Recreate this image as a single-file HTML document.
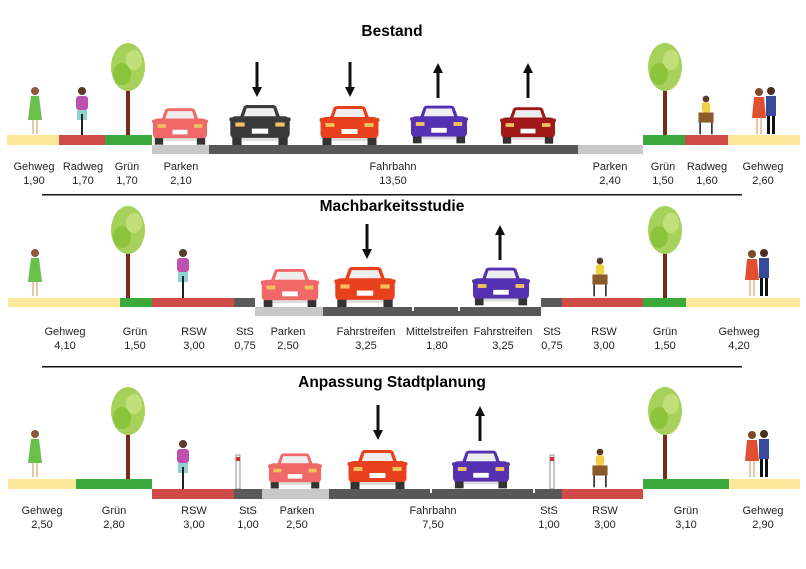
<!DOCTYPE html>
<html><head><meta charset="utf-8"><style>
html,body{margin:0;padding:0;background:#fff}
svg{display:block}
text{font-family:"Liberation Sans",sans-serif;font-size:11px;fill:#222;text-anchor:middle}
.t{font-size:15.5px;font-weight:bold;fill:#000}
</style></head><body>
<svg width="806" height="569" viewBox="0 0 806 569" xmlns="http://www.w3.org/2000/svg">
<defs>
<symbol id="car" viewBox="0 0 60 40" overflow="visible">
<path d="M10 14 L14 3 Q15 1 18 1 L42 1 Q45 1 46 3 L50 14 Z" fill="currentColor"/>
<path d="M14 13 L17 4 L43 4 L46 13 Z" fill="#eee"/>
<rect x="1" y="12" width="58" height="22" rx="5" fill="currentColor"/>
<rect x="0" y="13" width="6" height="4" rx="2" fill="currentColor"/>
<rect x="54" y="13" width="6" height="4" rx="2" fill="currentColor"/>
<rect x="6" y="18" width="9" height="4" fill="#f3c060"/>
<rect x="45" y="18" width="9" height="4" fill="#f3c060"/>
<rect x="22" y="24" width="16" height="5" fill="#fff"/>
<rect x="3" y="33" width="9" height="7" fill="#333"/>
<rect x="48" y="33" width="9" height="7" fill="#333"/>
<rect x="12" y="33" width="36" height="3" fill="#ddd"/>
</symbol>
<symbol id="tree" viewBox="0 0 40 95" overflow="visible">
<rect x="18" y="35" width="4" height="60" fill="#7a2a1a"/>
<ellipse cx="20" cy="25" rx="17" ry="24" fill="#a6d15a"/>
<ellipse cx="14" cy="32" rx="9" ry="11" fill="#8cc33d"/>
<ellipse cx="26" cy="18" rx="8" ry="10" fill="#c2e07a"/>
</symbol>
<symbol id="woman" viewBox="0 0 16 50" overflow="visible">
<circle cx="8" cy="5" r="4" fill="#8a5a3a"/>
<path d="M4 10 L12 10 L15 34 L1 34 Z" fill="#6ac04a"/>
<rect x="5" y="34" width="2" height="14" fill="#e8c8a8"/>
<rect x="9" y="34" width="2" height="14" fill="#e8c8a8"/>
</symbol>
<symbol id="cyc" viewBox="0 0 20 50" overflow="visible">
<circle cx="10" cy="5" r="4" fill="#5a3a2a"/>
<rect x="4" y="10" width="12" height="14" rx="3" fill="#c050b0"/>
<rect x="5" y="24" width="10" height="10" fill="#8fd0d0"/>
<rect x="9" y="28" width="2" height="22" fill="#222"/>
</symbol>
<symbol id="cyc2" viewBox="0 0 24 50" overflow="visible">
<circle cx="12" cy="6" r="4" fill="#5a3a2a"/>
<rect x="7" y="10" width="10" height="12" rx="3" fill="#f0d040"/>
<rect x="3" y="22" width="18" height="12" fill="#8a5a2a"/>
<rect x="4" y="34" width="2" height="14" fill="#333"/>
<rect x="18" y="34" width="2" height="14" fill="#333"/>
</symbol>
<symbol id="couple" viewBox="0 0 30 50" overflow="visible">
<circle cx="9" cy="6" r="4" fill="#7a4a2a"/>
<path d="M4 11 L14 11 L16 32 L2 32 Z" fill="#e05030"/>
<rect x="6" y="32" width="2" height="16" fill="#e8c8a8"/>
<rect x="10" y="32" width="2" height="16" fill="#e8c8a8"/>
<circle cx="21" cy="5" r="4" fill="#4a3020"/>
<rect x="16" y="10" width="10" height="20" fill="#3a4a9a"/>
<rect x="17" y="30" width="3" height="18" fill="#111"/>
<rect x="22" y="30" width="3" height="18" fill="#111"/>
</symbol>
<symbol id="dn" viewBox="0 0 10 36" overflow="visible"><rect x="3.5" y="0" width="3" height="27" fill="#111"/><path d="M0 25 L10 25 L5 35 Z" fill="#111"/></symbol>
<symbol id="up" viewBox="0 0 10 36" overflow="visible"><rect x="3.5" y="9" width="3" height="27" fill="#111"/><path d="M0 11 L10 11 L5 1 Z" fill="#111"/></symbol>
</defs>

<!-- titles -->
<text class="t" x="392" y="36">Bestand</text>
<text class="t" x="392" y="211">Machbarkeitsstudie</text>
<text class="t" x="392" y="387">Anpassung Stadtplanung</text>
<rect x="42" y="194" width="700" height="1.5" fill="#111"/>
<rect x="42" y="366" width="700" height="1.5" fill="#111"/>

<!-- ROW 1 -->
<use href="#tree" x="108" y="42" width="40" height="95"/>
<use href="#tree" x="645" y="42" width="40" height="95"/>
<use href="#woman" x="27" y="86" width="16" height="50"/>
<use href="#cyc" x="72" y="86" width="20" height="50"/>
<use href="#cyc2" x="694" y="94" width="24" height="42"/>
<use href="#couple" x="750" y="86" width="30" height="50"/>
<use href="#dn" x="252" y="62" width="10" height="36"/>
<use href="#dn" x="345" y="62" width="10" height="36"/>
<use href="#up" x="433" y="62" width="10" height="36"/>
<use href="#up" x="523" y="62" width="10" height="36"/>
<use href="#car" x="152" y="107" width="56" height="38" style="color:#f06868"/>
<use href="#car" x="228" y="104" width="64" height="41" style="color:#3a3a3a"/>
<use href="#car" x="317" y="105" width="65" height="40" style="color:#e8401c"/>
<use href="#car" x="410" y="103" width="58" height="42" style="color:#5530b0"/>
<use href="#car" x="500" y="105" width="56" height="40" style="color:#a01818"/>
<rect x="7" y="135" width="52" height="10" fill="#fbe89a"/>
<rect x="59" y="135" width="46" height="10" fill="#d04a48"/>
<rect x="105" y="135" width="47" height="10" fill="#3aa83a"/>
<rect x="152" y="145" width="57" height="9" fill="#c8c8c8"/>
<rect x="209" y="145" width="369" height="9" fill="#585858"/>
<rect x="578" y="145" width="65" height="9" fill="#c8c8c8"/>
<rect x="643" y="135" width="42" height="10" fill="#3aa83a"/>
<rect x="685" y="135" width="43" height="10" fill="#d04a48"/>
<rect x="728" y="135" width="72" height="10" fill="#fbe89a"/>
<g>
<text x="34" y="170">Gehweg</text><text x="34" y="184">1,90</text>
<text x="83" y="170">Radweg</text><text x="83" y="184">1,70</text>
<text x="127" y="170">Grün</text><text x="127" y="184">1,70</text>
<text x="181" y="170">Parken</text><text x="181" y="184">2,10</text>
<text x="393" y="170">Fahrbahn</text><text x="393" y="184">13,50</text>
<text x="610" y="170">Parken</text><text x="610" y="184">2,40</text>
<text x="663" y="170">Grün</text><text x="663" y="184">1,50</text>
<text x="707" y="170">Radweg</text><text x="707" y="184">1,60</text>
<text x="763" y="170">Gehweg</text><text x="763" y="184">2,60</text>
</g>

<!-- ROW 2 -->
<use href="#tree" x="108" y="205" width="40" height="95"/>
<use href="#tree" x="645" y="205" width="40" height="95"/>
<use href="#woman" x="27" y="248" width="16" height="50"/>
<use href="#cyc" x="173" y="248" width="20" height="50"/>
<use href="#cyc2" x="588" y="256" width="24" height="42"/>
<use href="#couple" x="743" y="248" width="30" height="50"/>
<use href="#dn" x="362" y="224" width="10" height="36"/>
<use href="#up" x="495" y="224" width="10" height="36"/>
<use href="#car" x="260" y="268" width="60" height="39" style="color:#f06868"/>
<use href="#car" x="333" y="266" width="64" height="41" style="color:#e8401c"/>
<use href="#car" x="472" y="265" width="58" height="42" style="color:#5530b0"/>
<rect x="8" y="298" width="112" height="9" fill="#fbe89a"/>
<rect x="120" y="298" width="32" height="9" fill="#3aa83a"/>
<rect x="152" y="298" width="82" height="9" fill="#d04a48"/>
<rect x="234" y="298" width="21" height="9" fill="#5a5a5a"/>
<rect x="255" y="307" width="68" height="9" fill="#c8c8c8"/>
<rect x="323" y="307" width="218" height="9" fill="#585858"/>
<rect x="412" y="307" width="2" height="4" fill="#fff"/>
<rect x="458" y="307" width="2" height="4" fill="#fff"/>
<rect x="541" y="298" width="21" height="9" fill="#5a5a5a"/>
<rect x="562" y="298" width="81" height="9" fill="#d04a48"/>
<rect x="643" y="298" width="43" height="9" fill="#3aa83a"/>
<rect x="686" y="298" width="114" height="9" fill="#fbe89a"/>
<g>
<text x="65" y="335">Gehweg</text><text x="65" y="349">4,10</text>
<text x="135" y="335">Grün</text><text x="135" y="349">1,50</text>
<text x="194" y="335">RSW</text><text x="194" y="349">3,00</text>
<text x="245" y="335">StS</text><text x="245" y="349">0,75</text>
<text x="288" y="335">Parken</text><text x="288" y="349">2,50</text>
<text x="366" y="335">Fahrstreifen</text><text x="366" y="349">3,25</text>
<text x="437" y="335">Mittelstreifen</text><text x="437" y="349">1,80</text>
<text x="503" y="335">Fahrstreifen</text><text x="503" y="349">3,25</text>
<text x="552" y="335">StS</text><text x="552" y="349">0,75</text>
<text x="604" y="335">RSW</text><text x="604" y="349">3,00</text>
<text x="665" y="335">Grün</text><text x="665" y="349">1,50</text>
<text x="739" y="335">Gehweg</text><text x="739" y="349">4,20</text>
</g>

<!-- ROW 3 -->
<use href="#tree" x="108" y="386" width="40" height="95"/>
<use href="#tree" x="645" y="386" width="40" height="95"/>
<use href="#woman" x="27" y="429" width="16" height="50"/>
<use href="#cyc" x="173" y="439" width="20" height="50"/>
<use href="#cyc2" x="588" y="447" width="24" height="42"/>
<use href="#couple" x="743" y="429" width="30" height="50"/>
<rect x="236" y="455" width="4" height="34" fill="#fff" stroke="#777" stroke-width="0.8"/>
<rect x="236" y="457" width="4" height="4" fill="#d03030"/>
<rect x="550" y="455" width="4" height="34" fill="#fff" stroke="#777" stroke-width="0.8"/>
<rect x="550" y="457" width="4" height="4" fill="#d03030"/>
<use href="#dn" x="373" y="405" width="10" height="36"/>
<use href="#up" x="475" y="405" width="10" height="36"/>
<use href="#car" x="268" y="452" width="54" height="37" style="color:#f06868"/>
<use href="#car" x="345" y="449" width="65" height="40" style="color:#e8401c"/>
<use href="#car" x="452" y="449" width="58" height="40" style="color:#5530b0"/>
<rect x="8" y="479" width="68" height="10" fill="#fbe89a"/>
<rect x="76" y="479" width="76" height="10" fill="#3aa83a"/>
<rect x="152" y="489" width="82" height="10" fill="#d04a48"/>
<rect x="234" y="489" width="28" height="10" fill="#5a5a5a"/>
<rect x="262" y="489" width="67" height="10" fill="#c8c8c8"/>
<rect x="329" y="489" width="233" height="10" fill="#585858"/>
<rect x="430" y="489" width="2" height="4" fill="#fff"/>
<rect x="533" y="489" width="2" height="4" fill="#fff"/>
<rect x="562" y="489" width="81" height="10" fill="#d04a48"/>
<rect x="643" y="479" width="86" height="10" fill="#3aa83a"/>
<rect x="729" y="479" width="71" height="10" fill="#fbe89a"/>
<g>
<text x="42" y="514">Gehweg</text><text x="42" y="528">2,50</text>
<text x="114" y="514">Grün</text><text x="114" y="528">2,80</text>
<text x="194" y="514">RSW</text><text x="194" y="528">3,00</text>
<text x="248" y="514">StS</text><text x="248" y="528">1,00</text>
<text x="297" y="514">Parken</text><text x="297" y="528">2,50</text>
<text x="433" y="514">Fahrbahn</text><text x="433" y="528">7,50</text>
<text x="549" y="514">StS</text><text x="549" y="528">1,00</text>
<text x="605" y="514">RSW</text><text x="605" y="528">3,00</text>
<text x="686" y="514">Grün</text><text x="686" y="528">3,10</text>
<text x="763" y="514">Gehweg</text><text x="763" y="528">2,90</text>
</g>
</svg>
</body></html>
